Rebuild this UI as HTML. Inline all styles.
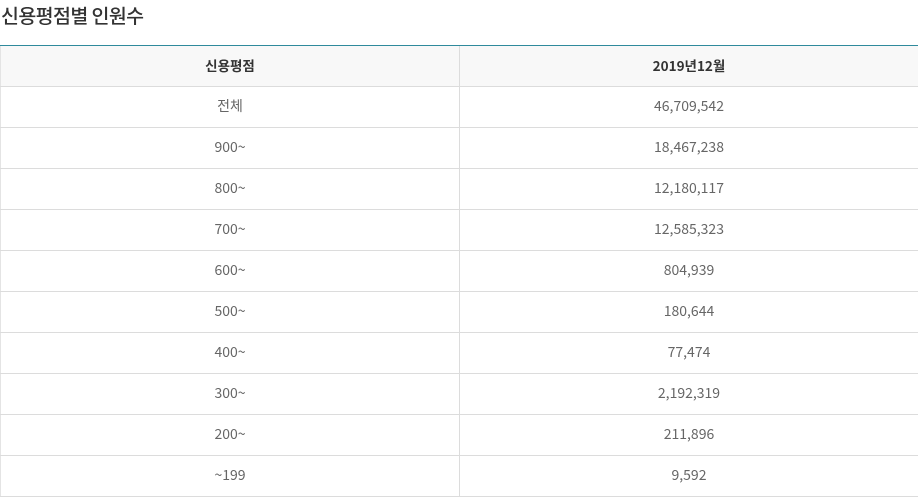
<!DOCTYPE html>
<html><head><meta charset="utf-8">
<style>
html,body{margin:0;padding:0;background:#fff;}
body{width:918px;height:498px;overflow:hidden;position:relative;font-family:"Noto Sans CJK KR","Liberation Sans",sans-serif;}
h2{position:absolute;left:1px;top:3px;margin:0;font-size:19.5px;font-weight:500;color:#333;line-height:24px;letter-spacing:-0.6px;}
.tbl{position:absolute;left:0;top:45px;width:918px;border-top:1px solid #2f8a9c;}
.r{height:40px;border-bottom:1px solid #dcdcdc;display:flex;}
.r div{height:40px;line-height:39px;text-align:center;font-size:14px;color:#666;}
.r div:first-child{width:458px;border-right:1px solid #dcdcdc;border-left:1px solid #e4e4e4;}
.r div:last-child{flex:1;}
.h{background:#f8f8f8;}
.h div{color:#333;font-weight:bold;font-size:13.5px;}
</style></head><body>
<h2>신용평점별 인원수</h2>
<div class="tbl">
<div class="r h"><div>신용평점</div><div>2019년12월</div></div>
<div class="r"><div>전체</div><div>46,709,542</div></div>
<div class="r"><div>900~</div><div>18,467,238</div></div>
<div class="r"><div>800~</div><div>12,180,117</div></div>
<div class="r"><div>700~</div><div>12,585,323</div></div>
<div class="r"><div>600~</div><div>804,939</div></div>
<div class="r"><div>500~</div><div>180,644</div></div>
<div class="r"><div>400~</div><div>77,474</div></div>
<div class="r"><div>300~</div><div>2,192,319</div></div>
<div class="r"><div>200~</div><div>211,896</div></div>
<div class="r"><div>~199</div><div>9,592</div></div>
</div>
</body></html>
